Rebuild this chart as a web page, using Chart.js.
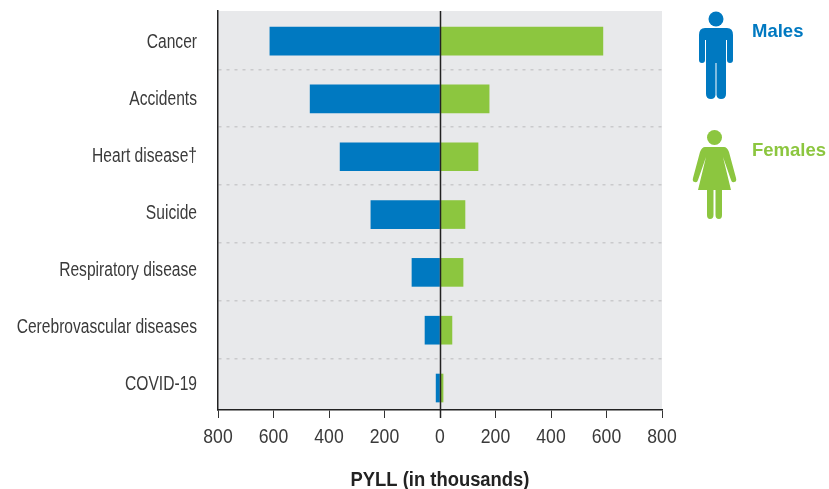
<!DOCTYPE html>
<html>
<head>
<meta charset="utf-8">
<script src="https://cdn.jsdelivr.net/npm/chart.js@4"></script>
<style>
  html, body { margin: 0; padding: 0; background: #fff; }
  #wrap { position: relative; width: 829px; height: 489px; overflow: hidden; }
  .key { position: absolute; left: 752px; font: bold 18.5px "Liberation Sans", sans-serif; line-height: 20px; }
  svg { position: absolute; left: 0; top: 0; }
</style>
</head>
<body>
<div id="wrap">
  <canvas id="myChart" width="829" height="489"></canvas>
  <svg width="829" height="489">
    <g fill="#0079c1">
      <circle cx="716" cy="19" r="7.5"/>
      <path d="M705 28 H727 Q733 28 733 35 V60 Q733 63 730 63 Q727 63 727 60 V40 H726 V94 Q726 99 721 99 Q717 99 716.5 95 V63 H715.5 V95 Q715 99 711 99 Q706 99 706 94 V40 H705 V60 Q705 63 702 63 Q699 63 699 60 V35 Q699 28 705 28 Z"/>
    </g>
    <g fill="#8cc63f">
      <circle cx="714.5" cy="137.5" r="7.5"/>
      <path d="M705 147 H724 Q727 147 729 152 L736 178 Q737 182 734 182 Q732 183 731 180 L723 157 L731 190 H698 L706 157 L698 180 Q697 183 695 182 Q692 182 693 178 L700 152 Q702 147 705 147 Z"/>
      <path d="M707 190 H713.5 V215 Q713.5 219 710 219 Q707 219 707 215 Z M715.5 190 H722 V215 Q722 219 719 219 Q715.5 219 715.5 215 Z"/>
    </g>
  </svg>
  <div class="key" style="top:21px;color:#0079c1">Males</div>
  <div class="key" style="top:140px;color:#8cc63f">Females</div>
</div>
<script>
var categories = ["Cancer", "Accidents", "Heart disease†", "Suicide", "Respiratory disease", "Cerebrovascular diseases", "COVID-19"];
var males = [-613, -468, -360, -249, -101, -54, -14];
var females = [587, 177, 137, 90, 83, 43, 11];
var xTicks = [-800, -600, -400, -200, 0, 200, 400, 600, 800];
var rowLines = [0.49, 1.49, 2.49, 3.49, 4.49, 5.49];

var textFont = '"Liberation Sans", sans-serif';

// the rows sit on a linear scale so the last one can run past the axis like the original
function toPoints(values) {
  return values.map(function (v, i) { return { x: v, y: i }; });
}

var plotBackground = {
  id: 'plotBackground',
  beforeDraw: function (chart) {
    var a = chart.chartArea;
    chart.ctx.fillStyle = '#e8e9eb';
    chart.ctx.fillRect(a.left, a.top, a.right - a.left, a.bottom - a.top);
  }
};

// zero line goes over the bars and a bit below the axis
var zeroLine = {
  id: 'zeroLine',
  afterDatasetsDraw: function (chart) {
    var ctx = chart.ctx;
    var x = Math.round(chart.scales.x.getPixelForValue(0)) + 0.5;
    ctx.save();
    ctx.strokeStyle = '#222';
    ctx.lineWidth = 1.5;
    ctx.beginPath();
    ctx.moveTo(x, chart.chartArea.top);
    ctx.lineTo(x, chart.chartArea.bottom + 8);
    ctx.stroke();
    ctx.restore();
  }
};

var ctx = document.getElementById("myChart").getContext('2d');

// no condensed font installed, so squeeze the text sideways when it is drawn
var rawFillText = ctx.fillText;
ctx.fillText = function (text, x, y) {
  var squeeze = /bold/.test(this.font) ? 0.92 : /^\d+$/.test(text) ? 0.88 : 0.78;
  this.save();
  this.translate(x, y);
  this.scale(squeeze, 1);
  rawFillText.call(this, text, 0, 0);
  this.restore();
};

var myChart = new Chart(ctx, {
  type: 'bar',
  plugins: [plotBackground, zeroLine],
  data: {
    datasets: [{
      label: 'Males',
      data: toPoints(males),
      backgroundColor: "#0079c1",
      barThickness: 28
    }, {
      label: 'Females',
      data: toPoints(females),
      backgroundColor: "#8cc63f",
      barThickness: 28
    }]
  },
  options: {
    indexAxis: 'y',
    responsive: false,
    animation: false,
    layout: { padding: { top: 11, right: 167, left: 0, bottom: 0 } },
    plugins: { legend: { display: false }, tooltip: { enabled: false } },
    scales: {
      x: {
        stacked: true,
        min: -800,
        max: 800,
        afterBuildTicks: function (axis) {
          axis.ticks = xTicks.map(function (v) { return { value: v }; });
        },
        afterFit: function (axis) {
          axis.height = 79;
          axis.paddingLeft = 0;
          axis.paddingRight = 0;
        },
        grid: {
          drawOnChartArea: false,
          tickLength: 8,
          tickColor: '#333',
          tickWidth: 1
        },
        border: { color: '#222', width: 1.5 },
        ticks: {
          color: '#3a3a3a',
          font: { family: textFont, size: 20 },
          padding: 7,
          maxRotation: 0,
          callback: function (v) { return Math.abs(v); }
        },
        title: {
          display: true,
          text: 'PYLL (in thousands)',
          color: '#222',
          font: { family: textFont, size: 20, weight: 'bold' },
          padding: { top: 12, bottom: -3 }
        }
      },
      y: {
        type: 'linear',
        stacked: true,
        reverse: true,
        offset: false,
        min: -0.52,
        max: 6.38,
        afterBuildTicks: function (axis) {
          // labels in the original run a little tighter than the bars
          axis.ticks = categories.map(function (c, i) { return { value: i * 0.986 + 0.03 }; })
            .concat(rowLines.map(function (v) { return { value: v }; }));
        },
        afterFit: function (axis) {
          axis.width = 218;
          axis.paddingTop = 0;
          axis.paddingBottom = 0;
        },
        grid: {
          offset: false,
          drawTicks: false,
          tickLength: 0,
          lineWidth: 1.5,
          color: function (c) {
            return c.tick && c.index >= categories.length ? '#c9cacc' : 'rgba(0,0,0,0)';
          }
        },
        // dash is for the dotted row lines
        border: { color: '#222', width: 1.5, dash: [3, 5] },
        ticks: {
          color: '#3a3a3a',
          font: { family: textFont, size: 20 },
          padding: 21,
          autoSkip: false,
          callback: function (v, i) { return i < categories.length ? categories[i] : ''; }
        }
      }
    }
  }
});
</script>
</body>
</html>
